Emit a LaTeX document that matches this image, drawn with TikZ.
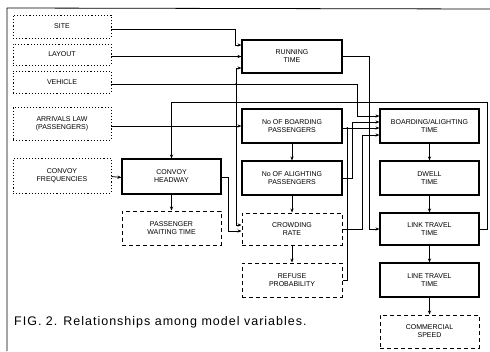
\documentclass[tikz,border=0pt]{standalone}
\usepackage{fontspec}
\setmainfont{Liberation Sans}
\usetikzlibrary{arrows.meta}
\begin{document}
\begin{tikzpicture}[x=1pt,y=-1pt,
  box/.style={draw, line width=1.1pt, minimum width=99pt, minimum height=34pt, inner sep=1pt, align=center, font=\fontsize{7}{8}\selectfont},
  inbox/.style={box, dotted, line width=0.7pt, minimum width=98pt},
  dbox/.style={box, dash pattern=on 4pt off 3pt, line width=1pt},
  conn/.style={line width=0.8pt},
  arr/.style={conn, -{Stealth[length=4pt,width=3.2pt]}},
  jdot/.style={circle, fill, inner sep=0pt, minimum size=2pt}]
\useasboundingbox (0,0) rectangle (490,351);
\draw[line width=0.8pt] (7,351) -- (7,8) -- (490,9);
% inputs
\node[inbox, minimum height=23pt] (site) at (62,26.5) {SITE};
\node[inbox, minimum height=21pt] (layout) at (62,54.5) {LAYOUT};
\node[inbox, minimum height=22pt] (vehicle) at (62,82) {VEHICLE};
\node[inbox, minimum height=33pt] (arrivals) at (62,123.5) {ARRIVALS LAW\\(PASSENGERS)};
\node[inbox, minimum height=35pt] (freq) at (62,175.5) {CONVOY\\FREQUENCIES};
% middle column
\node[box, minimum width=100pt, minimum height=33pt] (running) at (292,56.5) {RUNNING\\TIME};
\node[box, minimum width=100pt] (boarding) at (292,126) {No OF BOARDING\\PASSENGERS};
\node[box, minimum width=100pt] (alighting) at (292,178) {No OF ALIGHTING\\PASSENGERS};
\node[dbox, minimum width=100pt, minimum height=32pt] (crowding) at (292,229) {CROWDING\\RATE};
\node[dbox, minimum width=100pt] (refuse) at (292,280) {REFUSE\\PROBABILITY};
% headway column
\node[box, minimum height=35pt] (headway) at (171.5,176.5) {CONVOY\\HEADWAY};
\node[dbox, minimum height=34pt] (waiting) at (171.5,228) {PASSENGER\\WAITING TIME};
% right column
\node[box] (batime) at (429.5,126) {BOARDING/ALIGHTING\\TIME};
\node[box] (dwell) at (429.5,178) {DWELL\\TIME};
\node[box, minimum height=32pt] (link) at (429.5,229) {LINK TRAVEL\\TIME};
\node[box] (line) at (429.5,280) {LINE TRAVEL\\TIME};
\node[dbox, minimum height=33pt] (speed) at (429.5,331.5) {COMMERCIAL\\SPEED};
% caption
\node[anchor=west, inner sep=0pt, font=\fontsize{12.5}{14}\selectfont\addfontfeature{LetterSpace=8}] (cap) at (14,322) {FIG. 2. Relationships among model variables.};
% connectors
\draw[arr] ([yshift=-2.5pt]site.east) -| ([xshift=-6pt,yshift=11.5pt]running.west) -- ([yshift=11.5pt]running.west);
\draw[arr] ([yshift=-2pt]layout.east) -- (running.west);
\coordinate (vj) at (236,84);
\draw[arr] ([yshift=-2pt]vehicle.east) -| ([xshift=-22pt,yshift=10pt]batime.west) -- ([yshift=10pt]batime.west);
\draw[arr] (vj) |- ([yshift=-11.5pt]running.west);
\draw[arr] (vj) |- ([yshift=4pt]crowding.west);
\node[jdot] at (vj) {};
\draw[arr] (arrivals.east |- boarding.west) -- (boarding.west);
\draw[arr] ([yshift=-1pt]freq.east) -- ([yshift=-1pt]headway.west);
\draw[arr] (headway.south) -- (waiting.north);
\draw[arr] ([yshift=-1pt]headway.east) -- ++(7,0) |- ([yshift=-2pt]crowding.west);
\coordinate (fb) at (487,102);
\draw[arr] (link.east) -| (fb) -| (headway.north);
\draw[arr] (running.east) -| ([xshift=-10pt]link.west) -- (link.west);
\draw[arr] (boarding.south) -- (alighting.north);
\draw[arr] (alighting.south) -- (crowding.north);
\draw[arr] (crowding.south) -- (refuse.north);
\draw[arr] ([yshift=-2pt]boarding.east) -- ([yshift=-2pt]batime.west);
\draw[arr] (alighting.east) -| ([xshift=-27pt,yshift=4pt]batime.west) -- ([yshift=4pt]batime.west);
\coordinate (rj) at ([xshift=-32pt,yshift=-2pt]batime.west);
\draw[conn] (refuse.east) -| (rj);
\node[jdot] at (rj) {};
\draw[arr] (crowding.east) -| ([xshift=-17pt,yshift=-9pt]batime.west) -- ([yshift=-9pt]batime.west);
\draw[arr] (batime.south) -- (dwell.north);
\draw[arr] (dwell.south) -- (link.north);
\draw[arr] (link.south) -- (line.north);
\draw[arr] (line.south) -- (speed.north);
\end{tikzpicture}
\end{document}
